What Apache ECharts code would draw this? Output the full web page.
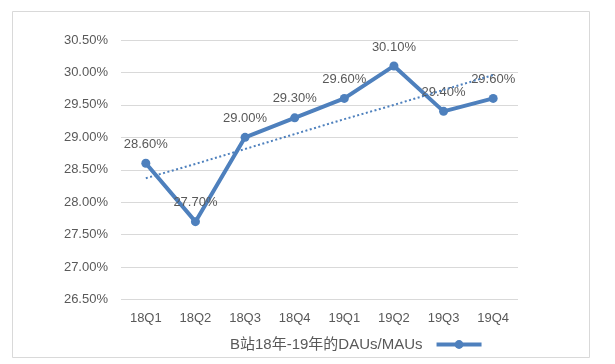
<!DOCTYPE html>
<html>
<head>
<meta charset="utf-8">
<script src="https://cdn.jsdelivr.net/npm/echarts@6/dist/echarts.min.js"></script>
<style>
  html, body { margin: 0; padding: 0; background: #ffffff; }
  #chart { width: 615px; height: 364px; }
</style>
</head>
<body>
<div id="chart"></div>
<script>
// ---- data ----
var categories = ['18Q1', '18Q2', '18Q3', '18Q4', '19Q1', '19Q2', '19Q3', '19Q4'];
var seriesName = 'B站18年-19年的DAUs/MAUs';
var dauMauValues = [28.6, 27.7, 29.0, 29.3, 29.6, 30.1, 29.4, 29.6];
// dotted trend line values
var trendValues = [28.37, 28.59, 28.82, 29.05, 29.28, 29.50, 29.73, 29.96];
var yTicks = { min: 26.5, max: 30.5, step: 0.5 };

var FONT = '"Liberation Sans", "Noto Sans CJK SC", sans-serif';
var TEXT = '#595959';
var BLUE = '#4E80BD';

var chart = echarts.init(document.getElementById('chart'), null, { renderer: 'canvas' });
chart.setOption({
  backgroundColor: '#ffffff',
  animation: false,
  textStyle: { fontFamily: FONT },
  graphic: [{
    type: 'rect',
    shape: { x: 12.5, y: 11.5, width: 577, height: 346 },
    style: { fill: 'none', stroke: '#d9d9d9', lineWidth: 1 },
    silent: true,
    z: -1
  }],
  grid: { left: 121, right: 97, top: 40, bottom: 64.5 },
  legend: {
    data: [seriesName],
    left: 225,
    top: 332,
    align: 'right',
    itemWidth: 45,
    itemHeight: 11,
    lineStyle: { width: 4 },
    textStyle: { fontSize: 15, color: TEXT, fontFamily: FONT, padding: [0, 9, 0, 0] }
  },
  xAxis: {
    type: 'category',
    data: categories,
    boundaryGap: true,
    axisLine: { show: false },
    axisTick: { show: false },
    axisLabel: { color: TEXT, fontSize: 13, margin: 12, fontFamily: FONT }
  },
  yAxis: {
    type: 'value',
    min: yTicks.min,
    max: yTicks.max,
    interval: yTicks.step,
    axisLine: { show: false },
    axisTick: { show: false },
    axisLabel: {
      color: TEXT, fontSize: 13, margin: 13, fontFamily: FONT,
      formatter: function (v) { return v.toFixed(2) + '%'; }
    },
    splitLine: { lineStyle: { color: '#d9d9d9', width: 1 } }
  },
  series: [{
    name: seriesName,
    type: 'line',
    data: dauMauValues,
    symbol: 'circle',
    symbolSize: 9,
    color: BLUE,
    lineStyle: { width: 4, color: BLUE },
    itemStyle: { color: BLUE },
    label: {
      show: true,
      position: 'top',
      distance: 8,
      color: TEXT,
      fontSize: 13,
      fontFamily: FONT,
      formatter: function (p) { return p.value.toFixed(2) + '%'; }
    },
    z: 3
  }, {
    name: 'trend',
    type: 'line',
    data: trendValues,
    symbol: 'none',
    silent: true,
    lineStyle: { width: 2, color: BLUE, type: [2, 2.5], cap: 'butt' },
    z: 4
  }]
});
</script>
</body>
</html>
